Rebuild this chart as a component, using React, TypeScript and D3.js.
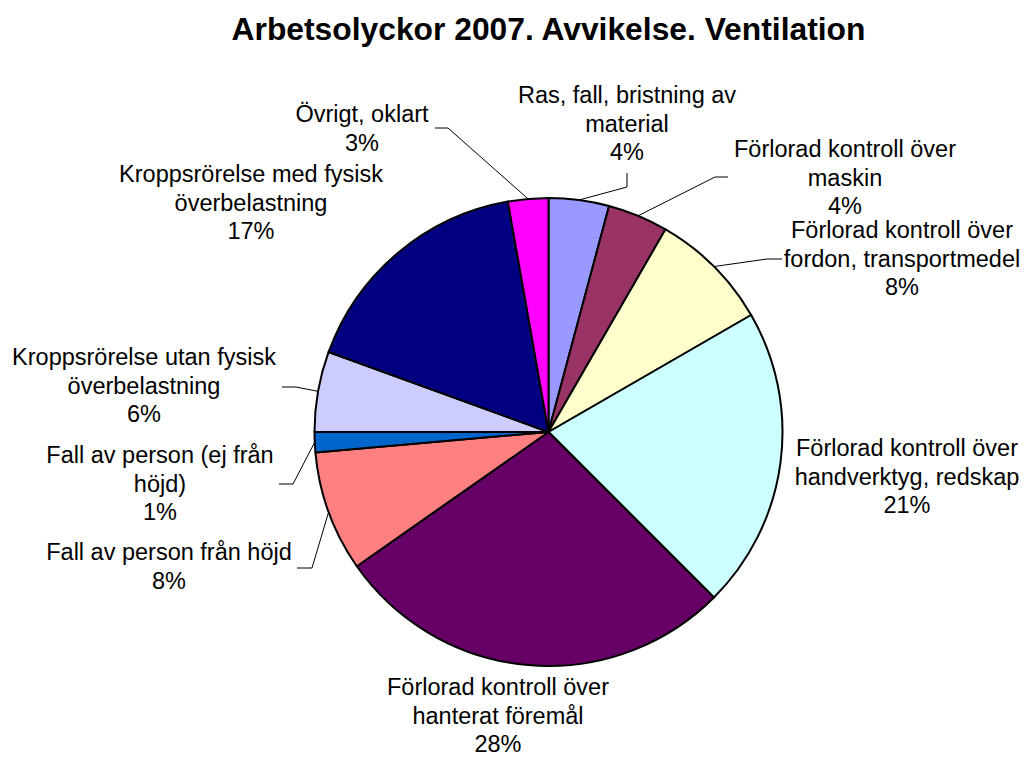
import React from 'react';
import * as d3 from 'd3';

// Categories (clockwise from 12 o'clock), counts and slice colours
const categories = [
  'Ras, fall, bristning av material',
  'Förlorad kontroll över maskin',
  'Förlorad kontroll över fordon, transportmedel',
  'Förlorad kontroll över handverktyg, redskap',
  'Förlorad kontroll över hanterat föremål',
  'Fall av person från höjd',
  'Fall av person (ej från höjd)',
  'Kroppsrörelse utan fysisk överbelastning',
  'Kroppsrörelse med fysisk överbelastning',
  'Övrigt, oklart',
];
const counts = [3, 3, 6, 15, 20, 6, 1, 4, 12, 2];
const colors = [
  '#9999FF', '#993366', '#FFFFCC', '#CCFFFF', '#660066',
  '#FF8080', '#0066CC', '#CCCCFF', '#000080', '#FF00FF',
];
// How each category label wraps (percentage line is added below)
const labelLines = [
  ['Ras, fall, bristning av', 'material'],
  ['Förlorad kontroll över', 'maskin'],
  ['Förlorad kontroll över', 'fordon, transportmedel'],
  ['Förlorad kontroll över', 'handverktyg, redskap'],
  ['Förlorad kontroll över', 'hanterat föremål'],
  ['Fall av person från höjd'],
  ['Fall av person (ej från', 'höjd)'],
  ['Kroppsrörelse utan fysisk', 'överbelastning'],
  ['Kroppsrörelse med fysisk', 'överbelastning'],
  ['Övrigt, oklart'],
];
const title = 'Arbetsolyckor 2007. Avvikelse. Ventilation';

// layout: label centre x / first baseline y, and leader line start+elbow (null = no leader)
const labelLayout: { x: number; y: number; leader: [number, number][] | null }[] = [
  { x: 627, y: 103, leader: [[627, 173], [627, 187]] },
  { x: 845, y: 157, leader: [[728, 177], [715, 177]] },
  { x: 902, y: 238, leader: [[782, 259], [767, 259]] },
  { x: 907, y: 456, leader: null },
  { x: 498, y: 695, leader: null },
  { x: 169, y: 560, leader: [[297, 568], [312, 568]] },
  { x: 160, y: 463, leader: [[279, 484], [293, 484]] },
  { x: 144, y: 365, leader: [[282, 387], [296, 387]] },
  { x: 251, y: 182, leader: null },
  { x: 362, y: 122, leader: [[435, 128], [448, 128]] },
];

const W = 1027;
const H = 758;
const cx = 548.5;
const cy = 432;
const R = 234;
const FONT = "'Liberation Sans', Arial, sans-serif";
const LINE_H = 28.5;

const App: React.FC = () => {
  const total = d3.sum(counts);
  const pie = d3.pie<number>().sort(null).value(d => d).startAngle(0).endAngle(2 * Math.PI);
  const arcs = pie(counts);
  const arc = d3.arc<d3.PieArcDatum<number>>().innerRadius(0).outerRadius(R);
  const pct = (v: number) => `${Math.round((v / total) * 100)}%`;

  return (
    <svg width={W} height={H} style={{ position: 'absolute', left: 0, top: 0, background: '#fff' }}>
      <text x={cx} y={40} textAnchor="middle" fontFamily={FONT} fontWeight="bold" fontSize={31.8} fill="#000">
        {title}
      </text>
      <g transform={`translate(${cx},${cy})`}>
        {arcs.map((a, i) => (
          <path key={categories[i]} d={arc(a) || ''} fill={colors[i]} stroke="#000" strokeWidth={2} strokeLinejoin="round" />
        ))}
      </g>
      {arcs.map((a, i) => {
        const lay = labelLayout[i];
        if (!lay.leader) return null;
        const mid = (a.startAngle + a.endAngle) / 2;
        const px = cx + R * Math.sin(mid);
        const py = cy - R * Math.cos(mid);
        const pts = [...lay.leader, [px, py]] as [number, number][];
        return <path key={`l${i}`} d={d3.line()(pts) || ''} fill="none" stroke="#000" strokeWidth={1} />;
      })}
      {arcs.map((a, i) => {
        const lay = labelLayout[i];
        const lines = [...labelLines[i], pct(a.value)];
        return (
          <text key={`t${i}`} textAnchor="middle" fontFamily={FONT} fontSize={23.5} fill="#000">
            {lines.map((ln, j) => (
              <tspan key={j} x={lay.x} y={lay.y + j * LINE_H}>{ln}</tspan>
            ))}
          </text>
        );
      })}
    </svg>
  );
};

export default App;
